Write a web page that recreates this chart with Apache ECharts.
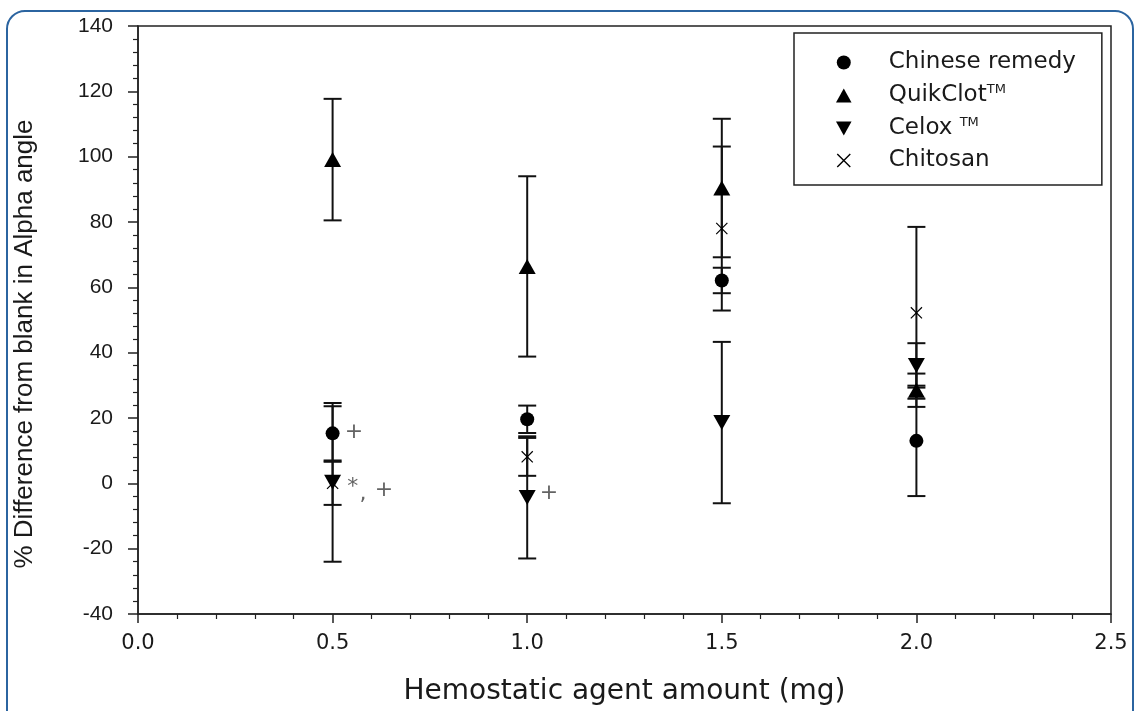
<!DOCTYPE html>
<html>
<head>
    <meta charset="UTF-8">
    <title>Alpha angle</title>
    <script src="https://cdn.jsdelivr.net/npm/echarts@6/dist/echarts.min.js"></script>
</head>
<body style="margin:0;background:#fff;">
    <div id="main" style="width: 1134px; height: 711px;"></div>
    <script>
        // 剂量 (mg)
        var doses = [0.5, 1.0, 1.5, 2.0];

        // 各组均值与误差
        var chineseMean = [15.3, 19.6, 62.1, 13.0];
        var chineseErr = [8.3, 4.2, 3.9, 16.9];
        var quikMean = [99.1, 66.4, 90.4, 28.5];
        var quikErr = [18.6, 27.6, 21.2, 5.1];
        var celoxMean = [0.3, -4.3, 18.6, 36.1];
        var celoxErr = [24.3, 18.7, 24.7, 6.8];
        var chitosanMean = [0.0, 8.1, 78.0, 52.2];
        var chitosanErr = [6.6, 5.8, 25.1, 26.3];

        // 显著性标记 [x, y, 文本]
        var marks = [
            [0.555, 15.6, '+'],
            [0.552, -1.2, '*'],
            [0.578, -3.5, ','],
            [0.632, -2.1, '+'],
            [1.056, -3.0, '+']
        ];

        var groups = [
            { name: 'Chitosan', mean: chitosanMean, err: chitosanErr, symbol: 'path://M0,0.7 L0.7,0 L10,9.3 L9.3,10 Z M9.3,0 L10,0.7 L0.7,10 L0,9.3 Z', size: 12 },
            { name: 'Chinese remedy', mean: chineseMean, err: chineseErr, symbol: 'circle', size: 14 },
            { name: 'QuikClot', mean: quikMean, err: quikErr, symbol: 'path://M5,0 L10,9 L0,9 Z', size: [17, 15] },
            { name: 'Celox', mean: celoxMean, err: celoxErr, symbol: 'path://M0,0 L10,0 L5,9 Z', size: [17, 15] }
        ];
        var legendOrder = ['Chinese remedy', 'QuikClot', 'Celox', 'Chitosan'];

        function pairs(g) {
            return doses.map(function (d, i) { return [d, g.mean[i], g.err[i]]; });
        }

        var errData = [];
        groups.forEach(function (g) { errData = errData.concat(pairs(g)); });

        var myChart = echarts.init(document.getElementById('main'));

        var series = [{
            // 误差棒
            type: 'custom',
            name: 'err',
            z: 2,
            silent: true,
            data: errData,
            renderItem: function (params, api) {
                var x = api.value(0), m = api.value(1), e = api.value(2);
                var top = api.coord([x, m + e]);
                var bot = api.coord([x, m - e]);
                var half = 9;
                var st = { stroke: '#111', lineWidth: 2 };
                return {
                    type: 'group',
                    children: [
                        { type: 'line', shape: { x1: top[0], y1: top[1], x2: bot[0], y2: bot[1] }, style: st },
                        { type: 'line', shape: { x1: top[0] - half, y1: top[1], x2: top[0] + half, y2: top[1] }, style: st },
                        { type: 'line', shape: { x1: bot[0] - half, y1: bot[1], x2: bot[0] + half, y2: bot[1] }, style: st }
                    ]
                };
            }
        }];

        groups.forEach(function (g) {
            series.push({
                type: 'scatter',
                name: g.name,
                z: 3,
                symbol: g.symbol,
                symbolSize: g.size,
                itemStyle: { color: '#000', opacity: 1 },
                data: pairs(g).map(function (p) { return [p[0], p[1]]; })
            });
        });

        series.push({
            type: 'scatter',
            name: 'marks',
            z: 4,
            symbolSize: 0,
            silent: true,
            label: {
                show: true,
                position: 'inside',
                formatter: function (p) { return p.data[2]; },
                color: '#3c3c3c',
                fontFamily: 'DejaVu Sans',
                fontSize: 22
            },
            data: marks
        });

        var option = {
            backgroundColor: '#fff',
            animation: false,
            graphic: [{
                type: 'rect',
                shape: { x: 7, y: 11, width: 1126, height: 740, r: 18 },
                style: { fill: 'none', stroke: '#2b64a0', lineWidth: 2 },
                silent: true
            }],
            grid: {
                left: 138, right: 23, top: 26, bottom: 96,
                show: true,
                borderColor: '#222',
                borderWidth: 1.5,
                backgroundColor: 'transparent'
            },
            legend: {
                data: legendOrder,
                orient: 'vertical',
                left: 794,
                top: 33,
                padding: [18, 26, 13, 42],
                itemWidth: 20,
                itemHeight: 14,
                itemGap: 9,
                borderColor: '#222',
                borderWidth: 1.5,
                backgroundColor: '#fff',
                selectedMode: false,
                formatter: function (name) {
                    if (name === 'QuikClot') return '{n|QuikClot}{s|TM}';
                    if (name === 'Celox') return '{n|Celox }{s|TM}';
                    return '{n|' + name + '}';
                },
                textStyle: {
                    padding: [0, 0, 0, 30],
                    rich: {
                        n: { fontFamily: 'DejaVu Sans', fontSize: 23, color: '#1a1a1a', lineHeight: 25 },
                        s: { fontFamily: 'DejaVu Sans', fontSize: 13, color: '#1a1a1a', verticalAlign: 'top', lineHeight: 13 }
                    }
                }
            },
            xAxis: {
                type: 'value',
                min: 0,
                max: 2.5,
                interval: 0.5,
                name: 'Hemostatic agent amount (mg)',
                nameLocation: 'middle',
                nameGap: 64,
                nameTextStyle: { fontFamily: 'DejaVu Sans', fontSize: 28, color: '#1a1a1a' },
                axisLine: { onZero: false, lineStyle: { color: '#222', width: 1.5 } },
                axisTick: { inside: false, length: 9, lineStyle: { color: '#222', width: 1.5 } },
                minorTick: { show: true, splitNumber: 5, length: 5, lineStyle: { color: '#222', width: 1.2 } },
                splitLine: { show: false },
                axisLabel: {
                    margin: 19,
                    fontFamily: 'DejaVu Sans',
                    fontSize: 21,
                    color: '#1a1a1a',
                    formatter: function (v) { return v.toFixed(1); }
                }
            },
            yAxis: {
                type: 'value',
                min: -40,
                max: 140,
                interval: 20,
                name: '% Difference from blank in Alpha angle',
                nameLocation: 'middle',
                nameGap: 100,
                nameTextStyle: { fontFamily: 'Liberation Sans', fontSize: 26, color: '#1a1a1a', padding: [0, 48, 0, 0] },
                axisLine: { onZero: false, lineStyle: { color: '#222', width: 1.5 } },
                axisTick: { inside: false, length: 10, lineStyle: { color: '#222', width: 1.5 } },
                minorTick: { show: true, splitNumber: 5, length: 5, lineStyle: { color: '#222', width: 1.2 } },
                splitLine: { show: false },
                axisLabel: {
                    margin: 25,
                    fontFamily: 'Liberation Sans',
                    fontSize: 21,
                    color: '#1a1a1a'
                }
            },
            series: series
        };

        myChart.setOption(option);
    </script>
</body>
</html>
